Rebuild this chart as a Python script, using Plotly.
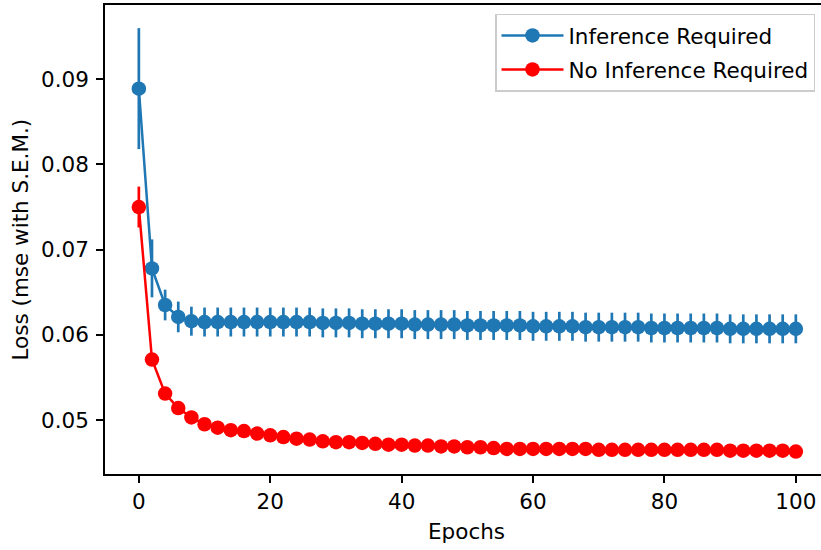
import plotly.graph_objects as go

epochs = list(range(0, 101, 2))

inference_loss = [
    0.0889, 0.0678, 0.0635, 0.0621, 0.0616, 0.0615, 0.0615, 0.0615, 0.0615, 0.0615,
    0.0615, 0.0615, 0.0615, 0.0615, 0.0614, 0.0614, 0.0614, 0.0613, 0.0613, 0.0613,
    0.0613, 0.0612, 0.0612, 0.0612, 0.0612, 0.0611, 0.0611, 0.0611, 0.0611, 0.0611,
    0.0610, 0.0610, 0.0610, 0.0610, 0.0609, 0.0609, 0.0609, 0.0609, 0.0609, 0.0608,
    0.0608, 0.0608, 0.0608, 0.0608, 0.0608, 0.0607, 0.0607, 0.0607, 0.0607, 0.0607,
    0.0607,
]
inference_sem = [0.0071, 0.0034, 0.0018, 0.0018] + [0.0017] * 47

no_inference_loss = [
    0.0750, 0.0571, 0.0531, 0.0514, 0.0503, 0.0495, 0.0491, 0.0488, 0.0487, 0.0484,
    0.0482, 0.0480, 0.0478, 0.0477, 0.0475, 0.0474, 0.0474, 0.0473, 0.0472, 0.0471,
    0.0471, 0.0470, 0.0470, 0.0469, 0.0469, 0.0468, 0.0468, 0.0467, 0.0466, 0.0466,
    0.0466, 0.0466, 0.0466, 0.0466, 0.0466, 0.0465, 0.0465, 0.0465, 0.0465, 0.0465,
    0.0465, 0.0465, 0.0465, 0.0465, 0.0465, 0.0464, 0.0464, 0.0464, 0.0464, 0.0464,
    0.0463,
]
no_inference_sem = [0.0024, 0.0006, 0.0005, 0.0004] + [0.0003] * 47

x_ticks = [0, 20, 40, 60, 80, 100]
y_ticks = [0.05, 0.06, 0.07, 0.08, 0.09]

BLUE = "#1f77b4"
RED = "#ff0000"
FONT = "DejaVu Sans"
FS = 21.5

fig = go.Figure()
fig.add_trace(go.Scatter(
    x=epochs, y=inference_loss, mode="lines+markers", name="Inference Required",
    legendgroup="a",
    line=dict(color=BLUE, width=2.5),
    marker=dict(color=BLUE, size=14.5),
    error_y=dict(type="data", array=inference_sem, visible=True, color=BLUE,
                 thickness=2.7, width=0),
))
fig.add_trace(go.Scatter(
    x=epochs, y=no_inference_loss, mode="lines+markers", name="No Inference Required",
    legendgroup="b",
    line=dict(color=RED, width=2.5),
    marker=dict(color=RED, size=14.5),
    error_y=dict(type="data", array=no_inference_sem, visible=True, color=RED,
                 thickness=2.7, width=0),
))

W, H = 821, 550
ml, mt, mb = 105, 5, 76
pw = W - ml
ph = H - mt - mb

fig.update_layout(
    width=W, height=H,
    margin=dict(l=ml, r=0, t=mt, b=mb, autoexpand=False),
    paper_bgcolor="white", plot_bgcolor="white",
    font=dict(family=FONT, size=FS, color="black"),
    showlegend=True,
    legend=dict(
        x=(815 - ml) / pw, xanchor="right", y=1 - (13.5 - mt) / ph, yanchor="top",
        bgcolor="white", bordercolor="#cccccc", borderwidth=1.5,
        font=dict(family=FONT, size=FS, color="black"),
        itemwidth=62, tracegroupgap=3,
    ),
    xaxis=dict(
        range=[-5.15, -5.15 + pw / 6.57],
        tickvals=x_ticks, ticktext=[str(v) for v in x_ticks],
        showgrid=False, zeroline=False,
        showline=True, linecolor="black", linewidth=1.6, mirror=True,
        ticks="outside", ticklen=7, tickwidth=1.6, tickcolor="black",
    ),
    yaxis=dict(
        range=[0.04366, 0.09872],
        tickvals=y_ticks, ticktext=[f"{v:.2f}" for v in y_ticks],
        showgrid=False, zeroline=False,
        showline=True, linecolor="black", linewidth=1.6,
        ticks="outside", ticklen=7, tickwidth=1.6, tickcolor="black",
        ticklabelstandoff=3,
    ),
    annotations=[
        dict(text="Epochs", xref="paper", yref="paper",
             x=(466 - ml) / pw, y=-(531.7 - (H - mb)) / ph,
             xanchor="center", yanchor="middle", showarrow=False,
             font=dict(family=FONT, size=FS, color="black")),
        dict(text="Loss (mse with S.E.M.)", xref="paper", yref="paper",
             x=(20 - ml) / pw, y=0.5, textangle=-90,
             xanchor="center", yanchor="middle", showarrow=False,
             font=dict(family=FONT, size=FS, color="black")),
    ],
)

fig.write_html("out.html",
               config={"displayModeBar": False},
               post_script="document.body.style.margin='0';document.body.style.overflow='hidden';")
